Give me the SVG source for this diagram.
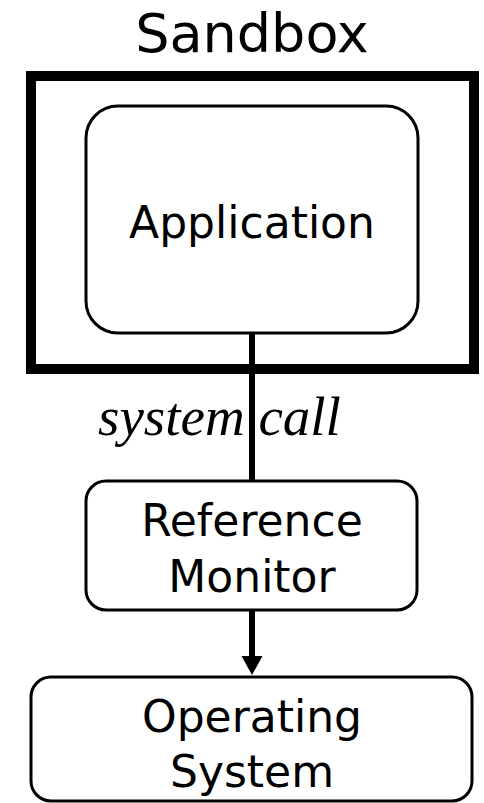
<svg xmlns="http://www.w3.org/2000/svg" width="484" height="803" viewBox="0 0 484 803">
<style>
.node{fill:#fff;stroke:#000;stroke-width:3}
.lbl{font-family:"DejaVu Sans",Verdana,sans-serif;font-size:44px;text-anchor:middle;fill:#000}
.conn{stroke:#000;stroke-width:6;fill:none}
</style>
<rect width="484" height="803" fill="#fff"/>
<g id="sandbox">
<text x="252" y="52" class="lbl" style="font-size:54px">Sandbox</text>
<rect x="31" y="76" width="443" height="293" fill="none" stroke="#000" stroke-width="10"/>
</g>
<g id="connectors">
<line x1="252" y1="333" x2="252" y2="481" class="conn"/>
<line x1="252" y1="611" x2="252" y2="658" class="conn"/>
<polygon points="241.5,656 262.5,656 252,675" fill="#000"/>
<text x="98" y="435" font-family="'Liberation Serif','Times New Roman',serif" font-style="italic" font-size="55" fill="#000">system call</text>
</g>
<g id="application">
<rect x="86" y="106" width="332" height="227" rx="32" class="node"/>
<text x="252" y="238" class="lbl">Application</text>
</g>
<g id="reference-monitor">
<rect x="86" y="481" width="331" height="129" rx="20" class="node"/>
<text x="252" y="536" class="lbl">Reference</text>
<text x="252" y="592" class="lbl">Monitor</text>
</g>
<g id="operating-system">
<rect x="31" y="677" width="441" height="124" rx="20" class="node"/>
<text x="252" y="732" class="lbl">Operating</text>
<text x="252" y="787" class="lbl">System</text>
</g>
</svg>
